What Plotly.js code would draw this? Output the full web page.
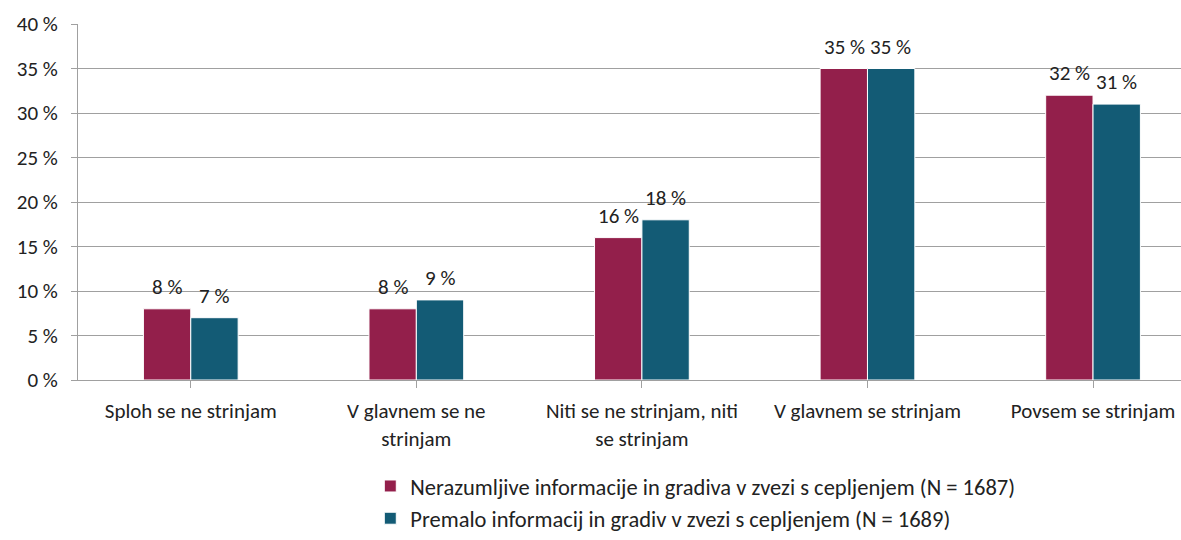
<!DOCTYPE html>
<html>
<head>
<meta charset="utf-8">
<script src="https://cdn.plot.ly/plotly-3.0.1.min.js"></script>
<style>html,body{margin:0;padding:0;background:#fff;}#chart{width:1181px;height:540px;}</style>
</head>
<body>
<div id="chart"></div>
<script>
const categories = ["Sploh se ne strinjam", "V glavnem se ne<br>strinjam", "Niti se ne strinjam, niti<br>se strinjam", "V glavnem se strinjam", "Povsem se strinjam"];
const seriesNames = ["Nerazumljive informacije in gradiva v zvezi s cepljenjem (N = 1687)", "Premalo informacij in gradiv v zvezi s cepljenjem (N = 1689)"];
const series1 = [8, 8, 16, 35, 32];
const series2 = [7, 9, 18, 35, 31];
const yTickVals = [0, 5, 10, 15, 20, 25, 30, 35, 40];
const yTickText = ["0 %", "5 %", "10 %", "15 %", "20 %", "25 %", "30 %", "35 %", "40 %"];
const colors = ["#931F4B", "#135B75"];

const font = "Calibri, Carlito, Lato, 'Open Sans', sans-serif";
const idx = categories.map((c, i) => i);
const mk = (vals, i) => ({
  type: "bar", x: idx, y: vals, name: seriesNames[i],
  marker: {color: colors[i], line: {color: "#ffffff", width: 1}},
  hoverinfo: "none"
});
const data = [mk(series1, 0), mk(series2, 1)];
const offsets = [-0.104, 0.104];
const annotations = [];
[series1, series2].forEach((vals, s) => {
  vals.forEach((v, i) => {
    annotations.push({
      x: i + offsets[s], y: v, xref: "x", yref: "y",
      text: v + " %", showarrow: false, yanchor: "bottom", yshift: 7,
      font: {family: font, size: 21, color: "#222"}
    });
  });
});
const layout = {
  width: 1181, height: 540,
  margin: {l: 78, r: 0, t: 24, b: 160},
  paper_bgcolor: "#fff", plot_bgcolor: "#fff",
  font: {family: font, size: 21, color: "#222"},
  barmode: "group", bargap: 0.58, bargroupgap: 0,
  showlegend: true,
  annotations: annotations,
  legend: {x: 0.265, y: -0.449, xanchor: "left", yanchor: "bottom", orientation: "v",
           font: {family: font, size: 22.5, color: "#222"}, tracegroupgap: 0, itemwidth: 30},
  xaxis: {
    tickvals: idx, ticktext: categories, range: [-0.5, 4.39], automargin: false,
    showline: true, linecolor: "#a0a0a0", linewidth: 1,
    ticks: "outside", tickson: "boundaries", ticklen: 7, tickcolor: "#a0a0a0", ticklabelstandoff: 5,
    showgrid: false, zeroline: false, fixedrange: true,
    tickfont: {family: font, size: 21, color: "#222"}
  },
  yaxis: {
    range: [0, 40], tickvals: yTickVals, ticktext: yTickText, automargin: false,
    showline: true, linecolor: "#a0a0a0", linewidth: 1,
    ticks: "outside", ticklen: 6, tickcolor: "#a0a0a0", ticklabelstandoff: 9,
    showgrid: true, gridcolor: "#a0a0a0", gridwidth: 1, zeroline: false,
    tickfont: {family: font, size: 21, color: "#222"}, fixedrange: true
  }
};
Plotly.newPlot("chart", data, layout, {displayModeBar: false, staticPlot: true});
</script>
</body>
</html>
